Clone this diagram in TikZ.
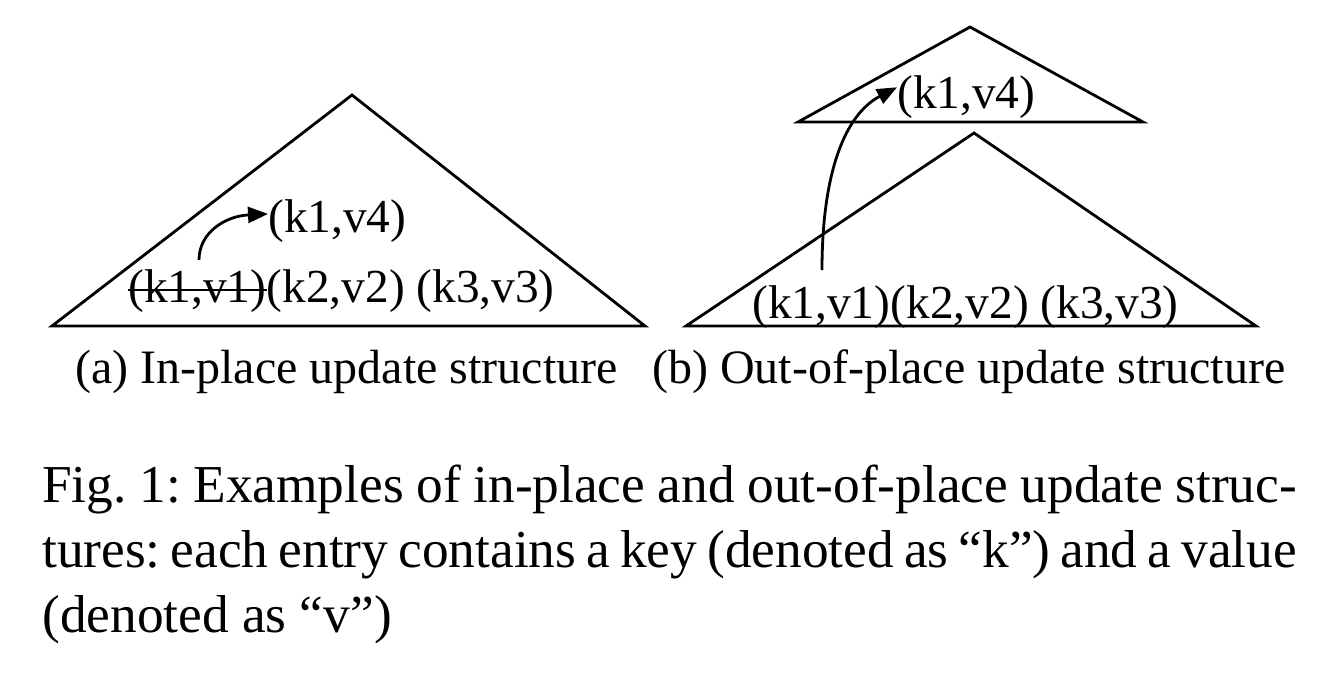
\documentclass[tikz,border=0pt]{standalone}
\usepackage{fontspec}
\setmainfont{Liberation Serif}
\usetikzlibrary{arrows.meta}
\begin{document}
\begin{tikzpicture}[x=0.75pt,y=-0.75pt,
  tri/.style={draw, line width=2.1pt, line join=miter},
  lbl/.style={inner sep=0pt, anchor=base west, font=\fontsize{35.5}{42}\selectfont},
  subcap/.style={inner sep=0pt, anchor=base west, font=\fontsize{36}{43}\selectfont},
  figcap/.style={inner sep=0pt, anchor=base west, font=\fontsize{40}{48}\selectfont\frenchspacing},
  arr/.style={line width=2.1pt, -{Triangle[length=15pt,width=12pt]}},
  strike/.style={line width=2.1pt},
]
\useasboundingbox (0,0) rectangle (1344,686);

% (a) in-place
\draw[tri] (52,326) -- (352,95) -- (645,326) -- cycle;
\node[lbl] (a1) at (128,302) {(k1,v1)};
\node[lbl] (a23) at (a1.base east) {(k2,v2) (k3,v3)};
\node[lbl] (av4) at (268,232) {(k1,v4)};
\draw[strike] ([yshift=9pt]a1.base west) -- ([yshift=9pt]a1.base east);
\coordinate (s1) at (199,260);
\draw[arr] (s1) .. controls (199,232) and (226,216) .. ([yshift=5pt]av4.west);

% (b) out-of-place
\draw[tri] (798,122) -- (970,27) -- (1143,122) -- cycle;
\draw[tri] (686,326) -- (974,133) -- (1256,326) -- cycle;
\node[lbl] (b1) at (752,318) {(k1,v1)};
\node[lbl] (b23) at (b1.base east) {(k2,v2) (k3,v3)};
\node[lbl] (bv4) at (897,108) {(k1,v4)};
\coordinate (s2) at (822,270);
\draw[arr] (s2) .. controls (822,170) and (846,114) .. ([yshift=7pt]bv4.west);

% sub-captions
\node[subcap] (ca) at (75,383) {(a) In-place update structure};
\node[subcap] (cb) at (652,383) {(b) Out-of-place update structure};

% figure caption
\node[figcap] (f1) at (42,502) {\makebox[941pt][s]{Fig. 1: Examples of in-place and out-of-place update struc-}};
\node[figcap] (f2) at (42,567) {\makebox[941pt][s]{tures: each entry contains a key (denoted as “k”) and a value}};
\node[figcap] (f3) at (42,632) {(denoted as “v”)};
\end{tikzpicture}
\end{document}
